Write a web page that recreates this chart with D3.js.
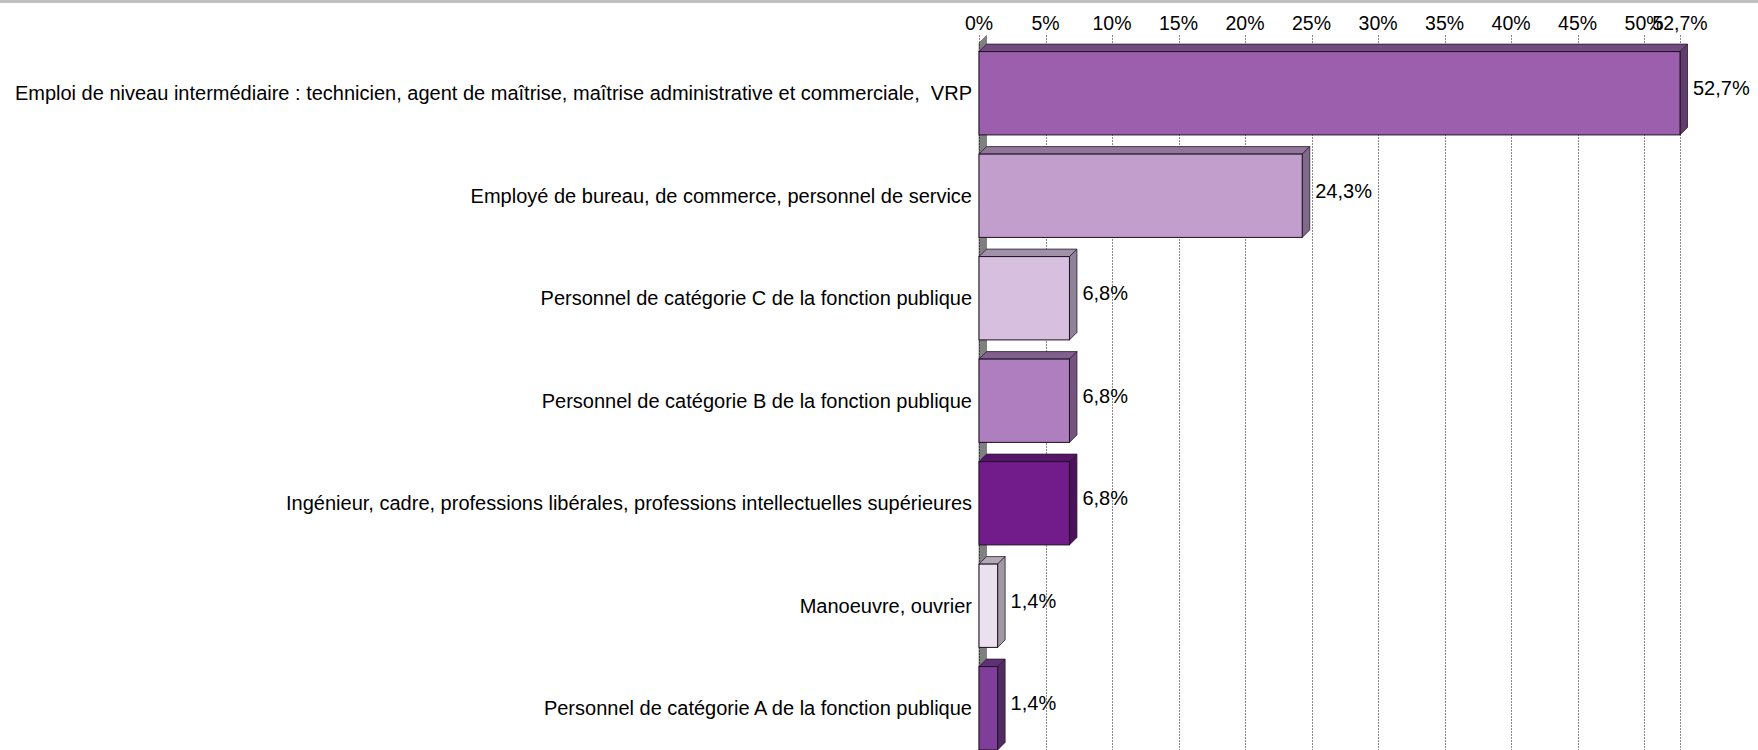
<!DOCTYPE html>
<html><head><meta charset="utf-8">
<script src="https://cdn.jsdelivr.net/npm/d3@7"></script>
<style>
html,body{margin:0;padding:0;background:#fff;}
svg{display:block;font-family:"Liberation Sans",Arial,sans-serif;}
</style></head>
<body>
<svg id="chart" width="1758" height="750"></svg>
<script>
const categories = [
  "Emploi de niveau intermédiaire : technicien, agent de maîtrise, maîtrise administrative et commerciale,  VRP",
  "Employé de bureau, de commerce, personnel de service",
  "Personnel de catégorie C de la fonction publique",
  "Personnel de catégorie B de la fonction publique",
  "Ingénieur, cadre, professions libérales, professions intellectuelles supérieures",
  "Manoeuvre, ouvrier",
  "Personnel de catégorie A de la fonction publique"
];
const values = [52.7, 24.3, 6.8, 6.8, 6.8, 1.4, 1.4];
const valueLabels = ["52,7%", "24,3%", "6,8%", "6,8%", "6,8%", "1,4%", "1,4%"];
const tickValues = [0, 5, 10, 15, 20, 25, 30, 35, 40, 45, 50, 52.7];
const tickLabels = ["0%", "5%", "10%", "15%", "20%", "25%", "30%", "35%", "40%", "45%", "50%", "52,7%"];
const frontColors = ["#9B5FAD", "#C29ECD", "#D7BFE0", "#AE7EBE", "#721C8C", "#EBE0EE", "#803E9B"];
const topColors   = ["#734B80", "#917699", "#A091A8", "#80608C", "#561569", "#B2A9B5", "#603074"];
const sideColors  = ["#613D6E", "#806A8A", "#8E8296", "#74547F", "#4B125C", "#A199A4", "#522A64"];

const svg = d3.select("#chart");
const W = 1758, H = 750;
const depth = 7.5;
const plotTop = 35.5;

const x = d3.scaleLinear().domain([0, 52.7]).range([979, 1680]);
const y = d3.scaleBand().domain(categories).range([42, 759.5])
  .paddingInner(0.1873).paddingOuter(0.0937);

// top grey strip
svg.append("rect").attr("x", 0).attr("y", 0).attr("width", W).attr("height", 3).attr("fill", "#c0c0c0");

// left wall (3D side)
const x0 = x(0);
svg.append("path")
  .attr("d", `M${x0},${plotTop + depth} L${x0 + depth},${plotTop} L${x0 + depth},${H + 20} L${x0},${H + 20} Z`)
  .attr("fill", "#808080").attr("stroke", "#555").attr("stroke-width", 0.6);

// gridlines
svg.append("g").selectAll("line").data(tickValues).join("line")
  .attr("x1", d => Math.round(x(d)) + 0.5).attr("x2", d => Math.round(x(d)) + 0.5)
  .attr("y1", plotTop).attr("y2", H)
  .attr("stroke", "#111").attr("stroke-width", 1).attr("stroke-dasharray", "1,2");

// tick labels
svg.append("g").selectAll("text").data(tickValues).join("text")
  .attr("x", d => x(d)).attr("y", 30)
  .attr("text-anchor", "middle").attr("font-size", "19.5px").attr("fill", "#000")
  .text((d, i) => tickLabels[i]);

// bars
const bars = svg.append("g").selectAll("g").data(values).join("g");
bars.each(function(v, i) {
  const g = d3.select(this);
  const yt = y(categories[i]);
  const bh = y.bandwidth();
  const xe = x(v);
  g.append("path")
    .attr("d", `M${x0},${yt} L${x0 + depth},${yt - depth} L${xe + depth},${yt - depth} L${xe},${yt} Z`)
    .attr("fill", topColors[i]).attr("stroke", "#2a1a30").attr("stroke-width", 0.8).attr("stroke-linejoin", "round");
  g.append("path")
    .attr("d", `M${xe},${yt} L${xe + depth},${yt - depth} L${xe + depth},${yt + bh - depth} L${xe},${yt + bh} Z`)
    .attr("fill", sideColors[i]).attr("stroke", "#2a1a30").attr("stroke-width", 0.8).attr("stroke-linejoin", "round");
  g.append("rect")
    .attr("x", x0).attr("y", yt).attr("width", xe - x0).attr("height", bh)
    .attr("fill", frontColors[i]).attr("stroke", "#1a1020").attr("stroke-width", 1);
});

// value labels
svg.append("g").selectAll("text").data(values).join("text")
  .attr("x", d => x(d) + 13)
  .attr("y", (d, i) => y(categories[i]) + y.bandwidth() / 2 - 5)
  .attr("dy", "0.35em").attr("font-size", "20px").attr("fill", "#000")
  .text((d, i) => valueLabels[i]);

// category labels
svg.append("g").selectAll("text").data(categories).join("text")
  .attr("x", 972)
  .attr("y", d => y(d) + y.bandwidth() / 2)
  .attr("dy", "0.35em").attr("text-anchor", "end").attr("font-size", "20px").attr("fill", "#000")
  .style("white-space", "pre")
  .text(d => d);
</script>
</body></html>
